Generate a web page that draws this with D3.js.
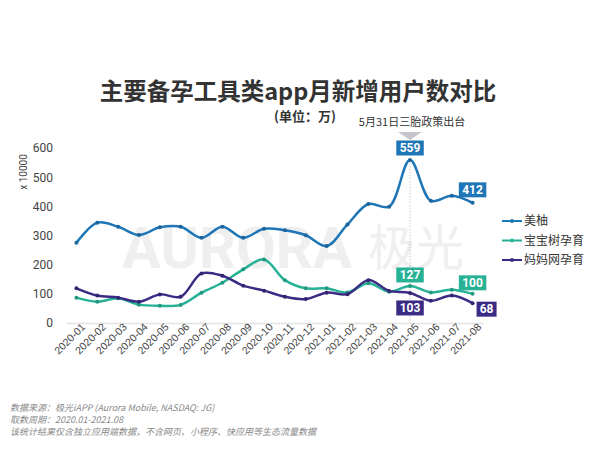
<!DOCTYPE html>
<html>
<head>
<meta charset="utf-8">
<script src="https://cdn.jsdelivr.net/npm/d3@7"></script>
<style>
  body { margin: 0; background: #fff; }
  svg { display: block; font-family: Roboto, "Noto Sans CJK SC", sans-serif; }
</style>
</head>
<body>
<div id="chart"></div>
<script>
// ---- data (万) ----
var months = ["2020-01","2020-02","2020-03","2020-04","2020-05","2020-06","2020-07","2020-08","2020-09","2020-10",
              "2020-11","2020-12","2021-01","2021-02","2021-03","2021-04","2021-05","2021-06","2021-07","2021-08"];
var meiyou   = [275, 344, 330, 302, 328, 330, 292, 330, 292, 323, 318, 301, 264, 338, 408, 399, 559, 419, 436, 412];
var baobaoshu = [87, 73, 85, 63, 59, 62, 104, 138, 184, 218, 147, 119, 119, 105, 136, 107, 127, 105, 114, 100];
var mamawang = [119, 94, 87, 73, 98, 90, 170, 162, 128, 111, 90, 82, 104, 99, 147, 110, 103, 76, 94, 68];
var seriesNames = ["美柚", "宝宝树孕育", "妈妈网孕育"];
var yTicks = [0, 100, 200, 300, 400, 500, 600];

var colors = ["#1f76b6", "#27b296", "#3b2b85"];
var series = [meiyou, baobaoshu, mamawang];

var W = 600, H = 450;
var svg = d3.select("#chart").append("svg").attr("width", W).attr("height", H);

// --------------------------- scales ---------------------------
var x = d3.scalePoint().domain(months).range([66, 483]).padding(0.5);
var y = d3.scaleLinear().domain([0, 600]).range([323, 148]);

// watermark
var wm = svg.append("g");
wm.append("text").attr("x", 122).attr("y", 268)
  .attr("font-size", 58).attr("font-weight", 700).attr("fill", "#efefef")
  .attr("font-family", "Roboto, sans-serif")
  .text("AURORA");
wm.append("text").attr("x", 368).attr("y", 265)
  .attr("font-size", 48).attr("fill", "#efefef")
  .attr("font-family", "'Noto Sans CJK SC', sans-serif")
  .text("极光");

// title
svg.append("text").attr("x", 298).attr("y", 100).attr("text-anchor", "middle")
  .attr("font-size", 23.5).attr("font-weight", 700).attr("fill", "#333")
  .attr("font-family", "'Noto Sans CJK SC', sans-serif")
  .text("主要备孕工具类app月新增用户数对比");
svg.append("text").attr("x", 305).attr("y", 121).attr("text-anchor", "middle")
  .attr("font-size", 13).attr("font-weight", 700).attr("fill", "#333")
  .attr("font-family", "'Noto Sans CJK SC', sans-serif")
  .text("(单位：万)");
svg.append("text").attr("x", 412).attr("y", 126).attr("text-anchor", "middle")
  .attr("font-size", 11).attr("fill", "#333")
  .attr("font-family", "'Noto Sans CJK SC', sans-serif")
  .text("5月31日三胎政策出台");

// y axis
var yAxis = d3.axisLeft(y).tickValues(yTicks).tickSize(0).tickPadding(10);
var gy = svg.append("g").attr("transform", "translate(63,0)").call(yAxis);
gy.select(".domain").remove();
gy.selectAll("text").attr("font-size", 12).attr("fill", "#444").attr("font-family", "Roboto, sans-serif");

svg.append("text")
  .attr("transform", "translate(27," + 172 + ") rotate(-90)")
  .attr("text-anchor", "middle").attr("font-size", 10).attr("fill", "#444")
  .text("x 10000");

// x axis
var xAxis = d3.axisBottom(x).tickSize(0).tickPadding(6);
var gx = svg.append("g").attr("transform", "translate(0," + y(0) + ")").call(xAxis);
gx.select(".domain").attr("stroke", "#e3e3e3").attr("stroke-width", 1.5);
gx.selectAll(".tick text")
  .attr("font-size", 10.5).attr("fill", "#444")
  .attr("text-anchor", "end")
  .attr("transform", "rotate(-45)")
  .attr("x", 3).attr("y", 6).attr("dy", "0.35em");

// dotted guide at the peak
var peakIdx = 16;
svg.append("line")
  .attr("x1", x(months[peakIdx])).attr("x2", x(months[peakIdx]))
  .attr("y1", y(meiyou[peakIdx])).attr("y2", y(0))
  .attr("stroke", "#bbb").attr("stroke-width", 0.8).attr("stroke-dasharray", "1.5,1.5");

// lines
var line = d3.line()
  .x(function(d, i) { return x(months[i]); })
  .y(function(d) { return y(d); })
  .curve(d3.curveCatmullRom.alpha(0.5));

series.forEach(function(s, k) {
  svg.append("path").datum(s)
    .attr("d", line).attr("fill", "none")
    .attr("stroke", colors[k]).attr("stroke-width", 2.5);
  svg.selectAll(".dot" + k).data(s).enter().append("circle")
    .attr("class", "dot" + k)
    .attr("cx", function(d, i) { return x(months[i]); })
    .attr("cy", function(d) { return y(d); })
    .attr("r", 2).attr("fill", d3.color(colors[k]).darker(0.4));
});

// arrow under the policy note
var ax = x(months[peakIdx]);
svg.append("path")
  .attr("d", "M" + (ax - 12) + ",132 L" + (ax + 12) + ",132 L" + ax + ",140 Z")
  .attr("fill", "#c4c6cc");

// value labels
var labels = [
  { s: 0, i: 16, dy: 0, pos: "top" },
  { s: 0, i: 19, dy: -13, pos: "above" },
  { s: 1, i: 16, dy: -11, pos: "above" },
  { s: 1, i: 19, dy: -11, pos: "above" },
  { s: 2, i: 16, dy: 15, pos: "below" },
  { s: 2, i: 19, dy: 6, pos: "right" }
];
labels.forEach(function(l) {
  var v = series[l.s][l.i];
  var cx = x(months[l.i]), cy = y(v) + l.dy;
  var txt = String(v);
  var bw = txt.length * 7.5 + 5, bh = 15;
  if (l.pos === "right") cx = x(months[l.i]) + 4 + bw / 2;
  if (l.pos === "top") cy = 148;
  svg.append("rect").attr("x", cx - bw / 2).attr("y", cy - bh / 2)
    .attr("width", bw).attr("height", bh).attr("fill", colors[l.s]);
  svg.append("text").attr("x", cx).attr("y", cy).attr("dy", "0.36em")
    .attr("text-anchor", "middle").attr("font-size", 12).attr("font-weight", 700)
    .attr("fill", "#fff").text(txt);
});

// legend
var lg = svg.append("g").attr("transform", "translate(502,221)");
seriesNames.forEach(function(n, k) {
  var g = lg.append("g").attr("transform", "translate(0," + (k * 19.5) + ")");
  g.append("line").attr("x1", 0).attr("x2", 20).attr("stroke", colors[k]).attr("stroke-width", 2);
  g.append("circle").attr("cx", 10).attr("r", 2).attr("fill", colors[k]);
  g.append("text").attr("x", 22).attr("dy", "0.35em").attr("font-size", 12).attr("fill", "#333")
    .attr("font-family", "'Noto Sans CJK SC', sans-serif").text(n);
});

// footnote
var notes = ["数据来源：极光iAPP (Aurora Mobile, NASDAQ: JG)", "取数周期：2020.01-2021.08",
             "该统计结果仅含独立应用端数据，不含网页、小程序、快应用等生态流量数据"];
svg.selectAll(".note").data(notes).enter().append("text")
  .attr("class", "note")
  .attr("x", 10).attr("y", function(d, i) { return 411 + i * 12; })
  .attr("font-size", 9).attr("font-style", "italic").attr("fill", "#888")
  .attr("font-family", "'Noto Sans CJK SC', sans-serif")
  .text(function(d) { return d; });
</script>
</body>
</html>
